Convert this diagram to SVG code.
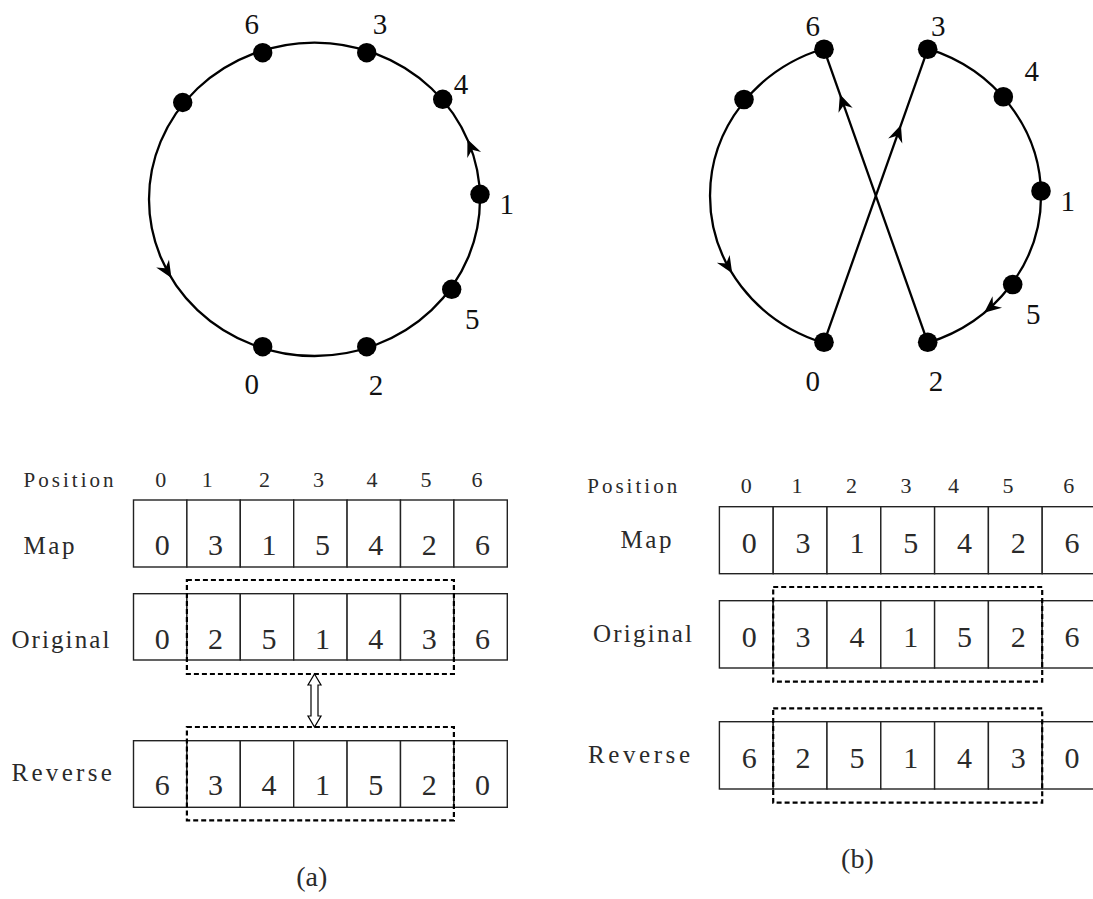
<svg xmlns="http://www.w3.org/2000/svg" width="1093" height="899" viewBox="0 0 1093 899">
<style>
.curve{fill:none;stroke:#000;stroke-width:2.3}
.dot{fill:#000}
.lbl{font-family:"Liberation Serif",serif;font-size:29px;fill:#111;text-anchor:middle}
.cell{fill:#fff;stroke:#222;stroke-width:1.4}
.dash{fill:none;stroke:#000;stroke-width:2.2;stroke-dasharray:5 3}
.num{font-family:"Liberation Serif",serif;font-size:30px;fill:#2a2a2a;text-anchor:middle}
.head{font-family:"Liberation Serif",serif;font-size:22px;fill:#2a2a2a;text-anchor:middle}
.row{font-family:"Liberation Serif",serif;font-size:25px;fill:#2a2a2a}
.pos{font-family:"Liberation Serif",serif;font-size:21px;fill:#2a2a2a}
.cap{font-family:"Liberation Serif",serif;font-size:28px;fill:#2a2a2a;text-anchor:middle}
</style>
<defs>
<path id="ah" d="M0,0 L-17,-7.5 L-11.5,0 L-17,7.5 Z" fill="#000"/>
</defs>

<!-- (a) tour drawn on a single closed loop -->
<g id="tour-a-edges">
<ellipse class="curve" cx="314.5" cy="199.3" rx="165.5" ry="156.7"/>
<use href="#ah" transform="translate(171.5,278.1) rotate(58.4)"/>
<use href="#ah" transform="translate(467.4,139.3) rotate(-113.6)"/>
</g>
<g id="a-node-6"><circle class="dot" cx="262.7" cy="52.7" r="9.7"/><text class="lbl" x="251.7" y="33.5">6</text></g>
<g id="a-node-3"><circle class="dot" cx="366.7" cy="52.7" r="9.7"/><text class="lbl" x="380" y="33.5">3</text></g>
<g id="a-node-x"><circle class="dot" cx="182.7" cy="102.5" r="9.7"/></g>
<g id="a-node-4"><circle class="dot" cx="442.7" cy="99.3" r="9.7"/><text class="lbl" x="461" y="94">4</text></g>
<g id="a-node-1"><circle class="dot" cx="480" cy="194.3" r="9.7"/><text class="lbl" x="506.7" y="214">1</text></g>
<g id="a-node-5"><circle class="dot" cx="451.7" cy="289.3" r="9.7"/><text class="lbl" x="472.3" y="328.5">5</text></g>
<g id="a-node-0"><circle class="dot" cx="262.7" cy="346.7" r="9.7"/><text class="lbl" x="251.7" y="393.5">0</text></g>
<g id="a-node-2"><circle class="dot" cx="366.7" cy="346.7" r="9.7"/><text class="lbl" x="376" y="394.5">2</text></g>

<!-- (b) tour after the 2-opt exchange -->
<g id="tour-b-edges">
<path class="curve" d="M824,48.5 A165.5,155 0 0 0 824,343.1"/>
<path class="curve" d="M927.7,48.7 A165.5,155 0 0 1 927.7,342.9"/>
<path class="curve" d="M824,342.3 L927.7,49.3"/>
<path class="curve" d="M927.7,342.3 L824,49.3"/>
<use href="#ah" transform="translate(732.2,273.3) rotate(58.3)"/>
<use href="#ah" transform="translate(984.1,312.8) rotate(140.8)"/>
<use href="#ah" transform="translate(900.9,125) rotate(-70.5)"/>
<use href="#ah" transform="translate(839.9,94.3) rotate(-109.5)"/>
</g>
<g id="b-node-6"><circle class="dot" cx="824" cy="49.3" r="9.8"/><text class="lbl" x="812.7" y="35.5">6</text></g>
<g id="b-node-3"><circle class="dot" cx="927.7" cy="49.3" r="9.8"/><text class="lbl" x="938.3" y="35.5">3</text></g>
<g id="b-node-x"><circle class="dot" cx="744" cy="99.5" r="9.8"/></g>
<g id="b-node-4"><circle class="dot" cx="1003.3" cy="96.7" r="9.8"/><text class="lbl" x="1031.7" y="80.5">4</text></g>
<g id="b-node-1"><circle class="dot" cx="1041" cy="191" r="9.8"/><text class="lbl" x="1067.7" y="210.5">1</text></g>
<g id="b-node-5"><circle class="dot" cx="1012.7" cy="284.5" r="9.8"/><text class="lbl" x="1033.3" y="323.5">5</text></g>
<g id="b-node-0"><circle class="dot" cx="824" cy="342.3" r="9.8"/><text class="lbl" x="812.7" y="390.5">0</text></g>
<g id="b-node-2"><circle class="dot" cx="927.7" cy="342.3" r="9.8"/><text class="lbl" x="936" y="390.5">2</text></g>

<!-- (a) arrays -->
<g id="table-a">
<text class="pos" x="23.5" y="486.7" textLength="90" lengthAdjust="spacing">Position</text>
<g class="head">
<text x="160.7" y="486.7">0</text><text x="207.3" y="486.7">1</text><text x="264.5" y="486.7">2</text><text x="318.5" y="486.7">3</text><text x="372" y="486.7">4</text><text x="426" y="486.7">5</text><text x="477" y="486.7">6</text>
</g>
<text class="row" x="23.5" y="554" textLength="51" lengthAdjust="spacing">Map</text>
<g id="a-map">
<rect class="cell" x="133.5" y="500" width="53.4" height="67"/><rect class="cell" x="186.9" y="500" width="53.4" height="67"/><rect class="cell" x="240.3" y="500" width="53.4" height="67"/><rect class="cell" x="293.7" y="500" width="53.4" height="67"/><rect class="cell" x="347.1" y="500" width="53.4" height="67"/><rect class="cell" x="400.5" y="500" width="53.4" height="67"/><rect class="cell" x="453.9" y="500" width="53.4" height="67"/>
<g class="num"><text x="162.2" y="555">0</text><text x="215.6" y="555">3</text><text x="269" y="555">1</text><text x="322.4" y="555">5</text><text x="375.8" y="555">4</text><text x="429.2" y="555">2</text><text x="482.6" y="555">6</text></g>
</g>
<text class="row" x="11.4" y="648.3" textLength="98" lengthAdjust="spacing">Original</text>
<g id="a-original">
<rect class="cell" x="133.5" y="593.7" width="53.4" height="66.3"/><rect class="cell" x="186.9" y="593.7" width="53.4" height="66.3"/><rect class="cell" x="240.3" y="593.7" width="53.4" height="66.3"/><rect class="cell" x="293.7" y="593.7" width="53.4" height="66.3"/><rect class="cell" x="347.1" y="593.7" width="53.4" height="66.3"/><rect class="cell" x="400.5" y="593.7" width="53.4" height="66.3"/><rect class="cell" x="453.9" y="593.7" width="53.4" height="66.3"/>
<g class="num"><text x="162.2" y="649">0</text><text x="215.6" y="649">2</text><text x="269" y="649">5</text><text x="322.4" y="649">1</text><text x="375.8" y="649">4</text><text x="429.2" y="649">3</text><text x="482.6" y="649">6</text></g>
<rect class="dash" x="186.9" y="580" width="267" height="94"/>
</g>
<g id="a-swap">
<polygon points="314.5,674 321,685 318,685 318,716 321,716 314.5,727 308,716 311,716 311,685 308,685" fill="#fff" stroke="#000" stroke-width="1.2"/>
</g>
<text class="row" x="11.4" y="780.7" textLength="100.5" lengthAdjust="spacing">Reverse</text>
<g id="a-reverse">
<rect class="cell" x="133.5" y="740.7" width="53.4" height="66.6"/><rect class="cell" x="186.9" y="740.7" width="53.4" height="66.6"/><rect class="cell" x="240.3" y="740.7" width="53.4" height="66.6"/><rect class="cell" x="293.7" y="740.7" width="53.4" height="66.6"/><rect class="cell" x="347.1" y="740.7" width="53.4" height="66.6"/><rect class="cell" x="400.5" y="740.7" width="53.4" height="66.6"/><rect class="cell" x="453.9" y="740.7" width="53.4" height="66.6"/>
<g class="num"><text x="162.2" y="795">6</text><text x="215.6" y="795">3</text><text x="269" y="795">4</text><text x="322.4" y="795">1</text><text x="375.8" y="795">5</text><text x="429.2" y="795">2</text><text x="482.6" y="795">0</text></g>
<rect class="dash" x="186.9" y="727" width="267" height="93.3"/>
</g>
<text class="cap" x="311.7" y="886">(a)</text>
</g>

<!-- (b) arrays -->
<g id="table-b">
<text class="pos" x="587.2" y="493.3" textLength="90" lengthAdjust="spacing">Position</text>
<g class="head">
<text x="746.3" y="493.3">0</text><text x="796.9" y="493.3">1</text><text x="851.6" y="493.3">2</text><text x="906" y="493.3">3</text><text x="953.6" y="493.3">4</text><text x="1008" y="493.3">5</text><text x="1068.8" y="493.3">6</text>
</g>
<text class="row" x="620.5" y="548.3" textLength="51" lengthAdjust="spacing">Map</text>
<g id="b-map">
<rect class="cell" x="719.4" y="506.7" width="53.8" height="67"/><rect class="cell" x="773.2" y="506.7" width="53.8" height="67"/><rect class="cell" x="827" y="506.7" width="53.8" height="67"/><rect class="cell" x="880.8" y="506.7" width="53.8" height="67"/><rect class="cell" x="934.6" y="506.7" width="53.8" height="67"/><rect class="cell" x="988.4" y="506.7" width="53.8" height="67"/><rect class="cell" x="1042.2" y="506.7" width="53.8" height="67"/>
<g class="num"><text x="749.3" y="552.5">0</text><text x="803.1" y="552.5">3</text><text x="856.9" y="552.5">1</text><text x="910.7" y="552.5">5</text><text x="964.5" y="552.5">4</text><text x="1018.3" y="552.5">2</text><text x="1072.1" y="552.5">6</text></g>
</g>
<text class="row" x="593" y="641.7" textLength="99" lengthAdjust="spacing">Original</text>
<g id="b-original">
<rect class="cell" x="719.4" y="600.7" width="53.8" height="67.3"/><rect class="cell" x="773.2" y="600.7" width="53.8" height="67.3"/><rect class="cell" x="827" y="600.7" width="53.8" height="67.3"/><rect class="cell" x="880.8" y="600.7" width="53.8" height="67.3"/><rect class="cell" x="934.6" y="600.7" width="53.8" height="67.3"/><rect class="cell" x="988.4" y="600.7" width="53.8" height="67.3"/><rect class="cell" x="1042.2" y="600.7" width="53.8" height="67.3"/>
<g class="num"><text x="749.3" y="646.5">0</text><text x="803.1" y="646.5">3</text><text x="856.9" y="646.5">4</text><text x="910.7" y="646.5">1</text><text x="964.5" y="646.5">5</text><text x="1018.3" y="646.5">2</text><text x="1072.1" y="646.5">6</text></g>
<rect class="dash" x="773.2" y="587" width="269" height="94.7"/>
</g>
<text class="row" x="588" y="763.3" textLength="102" lengthAdjust="spacing">Reverse</text>
<g id="b-reverse">
<rect class="cell" x="719.4" y="721.7" width="53.8" height="67.3"/><rect class="cell" x="773.2" y="721.7" width="53.8" height="67.3"/><rect class="cell" x="827" y="721.7" width="53.8" height="67.3"/><rect class="cell" x="880.8" y="721.7" width="53.8" height="67.3"/><rect class="cell" x="934.6" y="721.7" width="53.8" height="67.3"/><rect class="cell" x="988.4" y="721.7" width="53.8" height="67.3"/><rect class="cell" x="1042.2" y="721.7" width="53.8" height="67.3"/>
<g class="num"><text x="749.3" y="768">6</text><text x="803.1" y="768">2</text><text x="856.9" y="768">5</text><text x="910.7" y="768">1</text><text x="964.5" y="768">4</text><text x="1018.3" y="768">3</text><text x="1072.1" y="768">0</text></g>
<rect class="dash" x="773.2" y="708.3" width="269" height="94.4"/>
</g>
<text class="cap" x="857.4" y="868">(b)</text>
</g>
</svg>
